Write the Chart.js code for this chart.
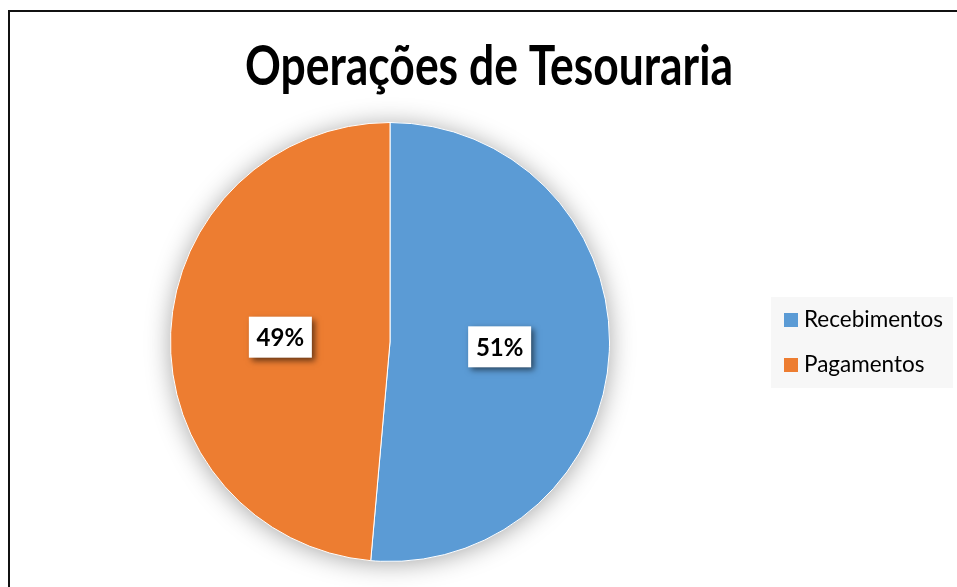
<!DOCTYPE html>
<html>
<head>
<meta charset="utf-8">
<script src="https://cdn.jsdelivr.net/npm/chart.js@4/dist/chart.umd.min.js"></script>
<style>
  html, body { margin: 0; padding: 0; background: #fff; }
  #wrap { position: relative; width: 957px; height: 587px; overflow: hidden; }
  #frame { position: absolute; left: 8px; top: 10px; width: 1000px; height: 1000px; border: 2px solid #111; box-sizing: border-box; pointer-events: none; }
  canvas { position: absolute; left: 0; top: 0; }
</style>
</head>
<body>
<div id="wrap">
  <div id="frame"></div>
  <canvas id="c" width="957" height="587"></canvas>
</div>
<script>
const categories = ["Recebimentos", "Pagamentos"];
const values = [51.4, 48.6];
const colors = ["#5B9BD5", "#ED7D31"];
const chartTitle = "Operações de Tesouraria";

const titleDraw = {
  id: 'titleDraw',
  afterDraw(chart) {
    const ctx = chart.ctx;
    ctx.save();
    ctx.fillStyle = '#000000';
    ctx.font = 'bold 55px Lato';
    ctx.textAlign = 'center';
    ctx.textBaseline = 'alphabetic';
    const tw = ctx.measureText(chartTitle).width;
    const sx = Math.min(1, 488 / tw);
    ctx.translate(489, 85);
    ctx.scale(sx, 1);
    ctx.fillText(chartTitle, 0, 0);
    ctx.restore();
  }
};

const pieShadow = {
  id: 'pieShadow',
  beforeDatasetsDraw(chart) {
    const arc = chart.getDatasetMeta(0).data[0];
    if (!arc) return;
    const ctx = chart.ctx;
    ctx.save();
    ctx.shadowColor = 'rgba(0,0,0,0.38)';
    ctx.shadowBlur = 26;
    ctx.shadowOffsetX = 0;
    ctx.shadowOffsetY = 2;
    ctx.beginPath();
    ctx.arc(arc.x, arc.y, arc.outerRadius - 1, 0, Math.PI * 2);
    ctx.fillStyle = '#ffffff';
    ctx.fill();
    ctx.restore();
  }
};

const sliceLabels = {
  id: 'sliceLabels',
  afterDatasetsDraw(chart) {
    const ctx = chart.ctx;
    const ds = chart.data.datasets[0];
    const total = ds.data.reduce((a, b) => a + b, 0);
    chart.getDatasetMeta(0).data.forEach((arc, i) => {
      const mid = (arc.startAngle + arc.endAngle) / 2;
      const r = arc.outerRadius * 0.5;
      const x = arc.x + Math.cos(mid) * r;
      const y = arc.y + Math.sin(mid) * r;
      const txt = Math.round(ds.data[i] / total * 100) + '%';
      const w = 63, h = 41;
      ctx.save();
      ctx.shadowColor = 'rgba(0,0,0,0.55)';
      ctx.shadowBlur = 6;
      ctx.shadowOffsetX = 3;
      ctx.shadowOffsetY = 3;
      ctx.fillStyle = '#ffffff';
      ctx.fillRect(x - w / 2, y - h / 2, w, h);
      ctx.restore();
      ctx.save();
      ctx.fillStyle = '#000000';
      ctx.font = 'bold 24px Lato';
      ctx.textAlign = 'center';
      ctx.textBaseline = 'middle';
      ctx.fillText(txt, x, y + 1);
      ctx.restore();
    });
  }
};

const sideLegend = {
  id: 'sideLegend',
  afterDraw(chart) {
    const ctx = chart.ctx;
    const bx = 771, by = 297, bw = 182, bh = 91;
    ctx.save();
    ctx.fillStyle = '#f7f7f7';
    ctx.fillRect(bx, by, bw, bh);
    const labels = chart.data.labels;
    const bg = chart.data.datasets[0].backgroundColor;
    labels.forEach((lab, i) => {
      const cy = 320 + i * 45;
      ctx.fillStyle = bg[i];
      ctx.fillRect(784, cy - 7, 14, 14);
      ctx.fillStyle = '#000000';
      ctx.font = '22.5px Lato';
      ctx.textAlign = 'left';
      ctx.textBaseline = 'middle';
      ctx.fillText(lab, 804, cy);
    });
    ctx.restore();
  }
};

new Chart(document.getElementById('c'), {
  type: 'pie',
  data: {
    labels: categories,
    datasets: [{
      data: values,
      backgroundColor: colors,
      borderColor: '#ffffff',
      borderWidth: 1
    }]
  },
  options: {
    responsive: false,
    animation: false,
    events: [],
    layout: { padding: { left: 170, right: 347, top: 122, bottom: 25 } },
    plugins: {
      legend: { display: false },
      tooltip: { enabled: false },
      title: { display: false }
    }
  },
  plugins: [pieShadow, sliceLabels, sideLegend, titleDraw]
});
</script>
</body>
</html>
